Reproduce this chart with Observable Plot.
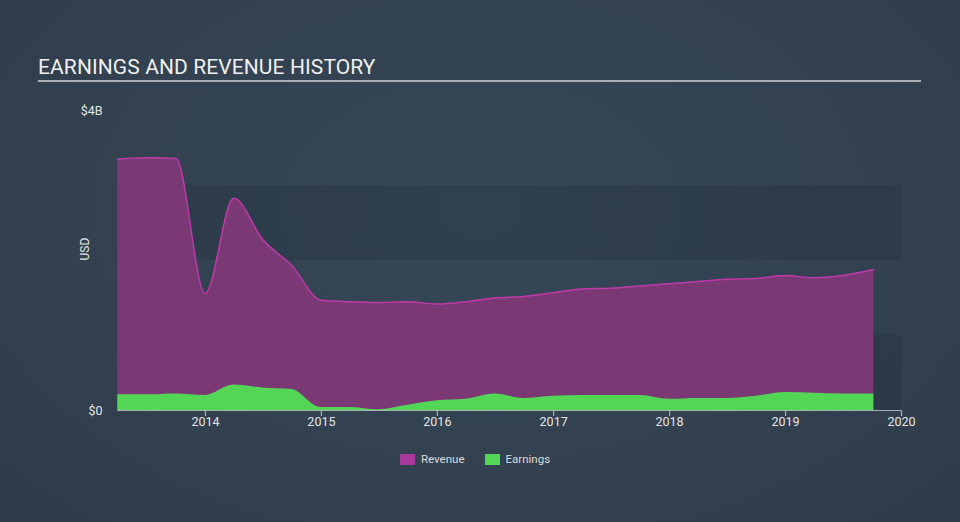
<!DOCTYPE html>
<html>
<head>
<meta charset="utf-8">
<script src="https://cdn.jsdelivr.net/npm/d3@7"></script>
<script src="https://cdn.jsdelivr.net/npm/@observablehq/plot@0.6"></script>
<style>
  html, body { margin: 0; padding: 0; }
  body { width: 960px; height: 522px; overflow: hidden;
         background: radial-gradient(ellipse at 50% 40%, #364858 0%, #323f4e 70%, #2f3b49 100%);
         font-family: Roboto, "Noto Sans", sans-serif; position: relative; }
  #title { position: absolute; left: 38px; top: 55px; font-size: 21px; color: #f0f0f0; letter-spacing: 0.1px; }
  #rule { position: absolute; left: 38px; top: 80px; width: 883px; height: 2px; background: #a9afb6; }
  #chart { position: absolute; left: 0; top: 0; }
  #legend { position: absolute; top: 452px; left: 400px; font-size: 11.5px; color: #dcdcdc; display: flex; align-items: center; }
  .sw { width: 15px; height: 11px; display: inline-block; margin-right: 6px; }
  .item { display: flex; align-items: center; margin-right: 20px; }
</style>
</head>
<body>
<div id="title">EARNINGS AND REVENUE HISTORY</div>
<div id="rule"></div>
<div id="chart"></div>
<div id="legend">
  <div class="item"><span class="sw" style="background:#a6389e"></span>Revenue</div>
  <div class="item"><span class="sw" style="background:#53d655"></span>Earnings</div>
</div>
<script>
const dates = ["2013-03-31","2013-06-30","2013-09-30","2013-12-31","2014-03-31","2014-06-30","2014-09-30","2014-12-31",
  "2015-03-31","2015-06-30","2015-09-30","2015-12-31","2016-03-31","2016-06-30","2016-09-30","2016-12-31",
  "2017-03-31","2017-06-30","2017-09-30","2017-12-31","2018-03-31","2018-06-30","2018-09-30","2018-12-31",
  "2019-03-31","2019-06-30","2019-10-06"];
// values in billions USD
const revenue = [3.35,3.37,3.36,1.56,2.83,2.28,1.93,1.47,1.45,1.44,1.45,1.42,1.45,1.50,1.52,1.57,
  1.62,1.63,1.66,1.69,1.72,1.75,1.76,1.80,1.77,1.80,1.88];
const earnings = [0.21,0.21,0.22,0.20,0.34,0.30,0.28,0.04,0.04,0.01,0.07,0.13,0.15,0.22,0.16,0.19,
  0.20,0.20,0.20,0.15,0.16,0.16,0.19,0.24,0.23,0.22,0.22];
const yTicks = [0, 4];
const yTickLabels = ["$0", "$4B"];
const xTickYears = [2014, 2015, 2016, 2017, 2018, 2019, 2020];
const bands = [[0, 1], [2, 3]];

const parse = d3.utcParse("%Y-%m-%d");
const rows = dates.map((d, i) => ({date: parse(d), revenue: revenue[i], earnings: earnings[i]}));
const start = rows[0].date;
const end = new Date(Date.UTC(2020, 0, 1));
const xTicks = xTickYears.map(y => new Date(Date.UTC(y, 0, 1)));

const chart = Plot.plot({
  width: 960,
  height: 440,
  marginTop: 110,
  marginBottom: 30,
  marginLeft: 89,
  marginRight: 59,
  style: {background: "transparent", fontFamily: "Roboto, sans-serif"},
  x: {type: "utc", domain: [new Date(Date.UTC(2013, 0, 1)), end], axis: null},
  y: {type: "linear", domain: [0, 4], axis: null},
  marks: [
    Plot.rect(bands, {x1: start, x2: end, y1: d => d[0], y2: d => d[1], fill: "#1a2533", fillOpacity: 0.22}),
    Plot.areaY(rows, {x: "date", y: "revenue", fill: "#7a3975", curve: "monotone-x"}),
    Plot.lineY(rows, {x: "date", y: "revenue", stroke: "#bf3aa9", strokeWidth: 1.5, curve: "monotone-x"}),
    Plot.areaY(rows, {x: "date", y: "earnings", fill: "#53d655", curve: "monotone-x"}),
    Plot.ruleY([0], {x1: start, x2: end, stroke: "#a9b0b8", strokeWidth: 1}),
    Plot.ruleX(xTicks, {x: d => d, y1: 0, y2: -0.08, stroke: "#a9b0b8", strokeWidth: 1.2}),
    Plot.text(xTicks, {x: d => d, frameAnchor: "bottom", dy: 15, text: d => String(d.getUTCFullYear()), fill: "#e6e6e6", fontSize: 12.5}),
    Plot.text(yTicks, {y: d => d, frameAnchor: "left", dx: 13, textAnchor: "end", text: (d, i) => yTickLabels[i], fill: "#e6e6e6", fontSize: 12.5}),
    Plot.text(["USD"], {y: 2, frameAnchor: "left", dx: -4, rotate: -90, text: d => d, fill: "#e6e6e6", fontSize: 12})
  ]
});
document.getElementById("chart").appendChild(chart);
</script>
</body>
</html>
